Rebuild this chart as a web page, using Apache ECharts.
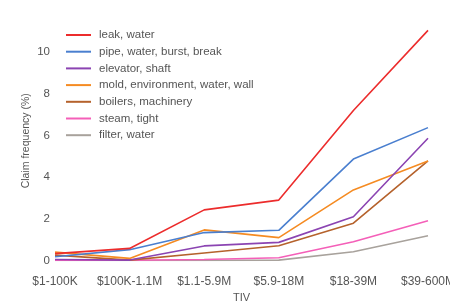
<!DOCTYPE html>
<html>
<head>
<meta charset="utf-8">
<script src="https://cdn.jsdelivr.net/npm/echarts@6/dist/echarts.min.js"></script>
<style>html,body{margin:0;padding:0;background:#fff;}#c{width:450px;height:304px;}</style>
</head>
<body>
<div id="c"></div>
<script>
var categories = ['$1-100K', '$100K-1.1M', '$1.1-5.9M', '$5.9-18M', '$18-39M', '$39-600M'];
var seriesNames = ['leak, water', 'pipe, water, burst, break', 'elevator, shaft', 'mold, environment, water, wall', 'boilers, machinery', 'steam, tight', 'filter, water'];
var leakWater = [0.33, 0.58, 2.43, 2.9, 7.2, 11.05];
var pipeWater = [0.18, 0.52, 1.34, 1.45, 4.87, 6.38];
var elevatorShaft = [0.05, 0.02, 0.7, 0.87, 2.1, 5.87];
var moldEnv = [0.4, 0.1, 1.47, 1.1, 3.39, 4.78];
var boilersMach = [0.26, 0.02, 0.36, 0.71, 1.79, 4.78];
var steamTight = [0.02, 0.01, 0.05, 0.13, 0.9, 1.91];
var filterWater = [0.0, 0.0, 0.0, 0.02, 0.42, 1.19];
var yTicks = [0, 2, 4, 6, 8, 10];

var colors = ['#ec2c2c', '#4a7fcf', '#8b44b2', '#f58b22', '#b5622c', '#f45fb8', '#a8a29c'];
var allData = [leakWater, pipeWater, elevatorShaft, moldEnv, boilersMach, steamTight, filterWater];

var chart = echarts.init(document.getElementById('c'), null, {renderer: 'canvas'});
var font = 'Liberation Sans, Arial, sans-serif';
chart.setOption({
  backgroundColor: '#fff',
  animation: false,
  color: colors,
  grid: {left: 55, right: 22, top: 21, bottom: 43.5, containLabel: false, outerBoundsMode: 'none'},
  legend: {
    orient: 'vertical', left: 60, top: 24,
    itemWidth: 25, itemHeight: 14, itemGap: 4.7,
    itemStyle: {opacity: 0},
    textStyle: {color: '#555', fontSize: 11.5, fontFamily: font, padding: [0, 0, 0, 3]},
    data: seriesNames
  },
  xAxis: {
    type: 'category', data: categories, boundaryGap: false,
    name: 'TIV', nameLocation: 'middle', nameGap: 32, nameMoveOverlap: false,
    nameTextStyle: {color: '#555', fontSize: 11, fontFamily: font},
    axisLine: {show: false}, axisTick: {show: false}, splitLine: {show: false},
    axisLabel: {color: '#555', fontSize: 12, fontFamily: font, margin: 15, interval: 0}
  },
  yAxis: {
    type: 'value', min: 0, max: 11.5, interval: 2,
    name: 'Claim frequency (%)', nameLocation: 'middle', nameGap: 23, nameMoveOverlap: false,
    nameTextStyle: {color: '#555', fontSize: 10.5, fontFamily: font},
    axisLine: {show: false}, axisTick: {show: false}, splitLine: {show: false},
    axisLabel: {color: '#555', fontSize: 11.5, fontFamily: font, margin: 5,
      formatter: function (v) { return yTicks.indexOf(v) >= 0 ? String(v) : ''; }}
  },
  series: seriesNames.map(function (n, i) {
    return {
      name: n, type: 'line', data: allData[i], symbol: 'none',
      lineStyle: {width: 1.6, color: colors[i]}, itemStyle: {color: colors[i]}, z: 10 - i
    };
  })
});
</script>
</body>
</html>
